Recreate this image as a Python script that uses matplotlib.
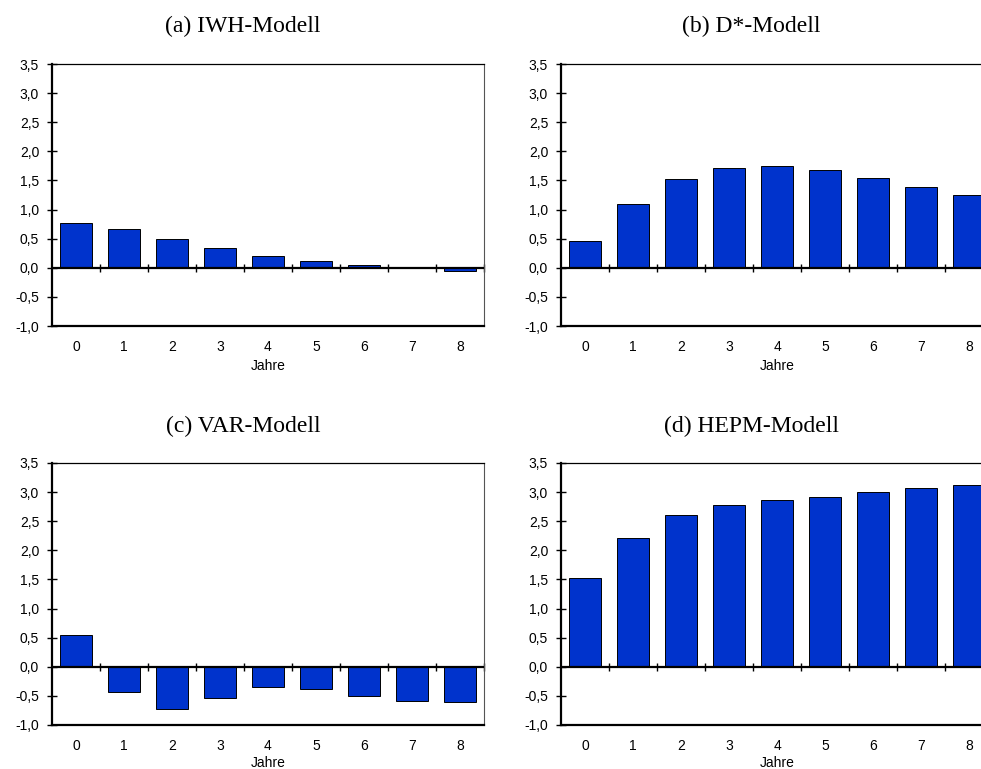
import numpy as np
import matplotlib
matplotlib.use('Agg')
import matplotlib.pyplot as plt
from matplotlib.ticker import FuncFormatter

plt.rcParams['font.family'] = 'Liberation Sans'

# Reaktion in Prozentpunkten, Jahre 0..8
jahre = np.arange(9)
titles = ['(a) IWH-Modell', '(b) D*-Modell',
          '(c) VAR-Modell', '(d) HEPM-Modell']

iwh = [0.77, 0.66, 0.49, 0.34, 0.21, 0.11, 0.04, -0.01, -0.05]
dstar = [0.46, 1.10, 1.53, 1.72, 1.75, 1.68, 1.54, 1.38, 1.25]
var = [0.55, -0.44, -0.72, -0.54, -0.35, -0.38, -0.51, -0.59, -0.60]
hepm = [1.52, 2.22, 2.61, 2.78, 2.86, 2.92, 3.00, 3.07, 3.13]

series = [iwh, dstar, var, hepm]

bar_color = '#0033cc'
W, H = 981, 769

fig = plt.figure(figsize=(W / 100, H / 100), dpi=100)

# panel boxes in pixels: left, top
boxes = [(52, 64), (561, 64), (52, 463), (561, 463)]
title_pos = [(243, 32), (751, 32), (243, 432), (751, 432)]
ax_w, ax_h = 432, 262

comma = FuncFormatter(lambda v, p: f'{v:.1f}'.replace('.', ','))

for i in range(4):
    left, top = boxes[i]
    ax = fig.add_axes([left / W, 1 - (top + ax_h) / H, ax_w / W, ax_h / H])

    ax.bar(jahre, series[i], width=0.67, color=bar_color,
           edgecolor='black', linewidth=0.7, zorder=2)
    ax.axhline(0, color='black', lw=1.6, zorder=3)

    ax.set_xlim(-0.5, 8.5)
    ax.set_ylim(-1.0, 3.5)
    ax.set_yticks(np.arange(-1.0, 3.51, 0.5))
    ax.yaxis.set_major_formatter(comma)
    ax.set_xticks(jahre)

    ax.tick_params(axis='y', direction='inout', length=6.5, width=1.0,
                   pad=6, labelsize=10)
    ax.tick_params(axis='x', length=0, pad=10, labelsize=10)
    # bottom row sits right at the figure edge
    ax.set_xlabel('Jahre', fontsize=10, labelpad=4 if i < 2 else 2)

    ax.spines['left'].set_linewidth(1.6)
    ax.spines['bottom'].set_linewidth(1.6)
    ax.spines['top'].set_linewidth(0.9)
    ax.spines['right'].set_linewidth(0.8)
    ax.spines['right'].set_color('#555555')

    # category separators on the zero line
    sec = ax.secondary_xaxis(1 / 4.5)
    sec.spines['bottom'].set_visible(False)
    sec.set_xticks(np.arange(0.5, 9, 1.0))
    sec.tick_params(direction='inout', length=6, width=1.0,
                    labelbottom=False, labeltop=False)

    fig.text(title_pos[i][0] / W, 1 - title_pos[i][1] / H, titles[i],
             ha='center', va='baseline', fontsize=17,
             family='Liberation Serif')

fig.savefig('out.png', dpi=100)
